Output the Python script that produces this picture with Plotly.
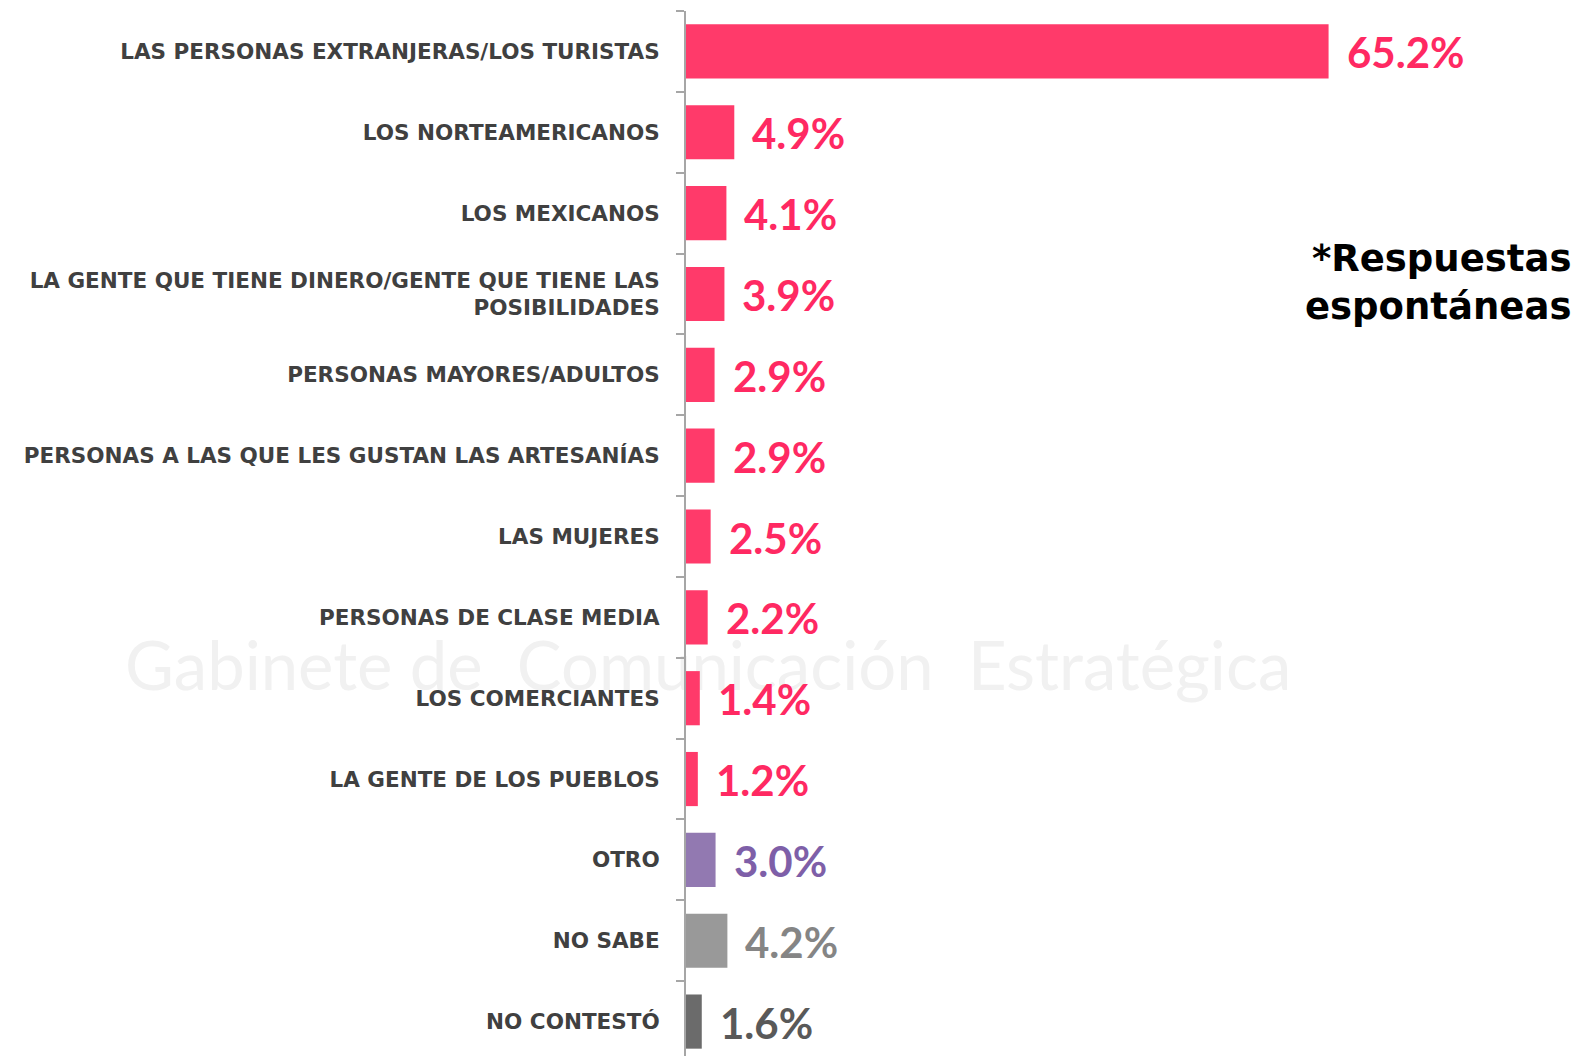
import plotly.graph_objects as go

categories = [
    "LAS PERSONAS EXTRANJERAS/LOS TURISTAS",
    "LOS NORTEAMERICANOS",
    "LOS MEXICANOS",
    "LA GENTE QUE TIENE DINERO/GENTE QUE TIENE LAS<br>POSIBILIDADES",
    "PERSONAS MAYORES/ADULTOS",
    "PERSONAS A LAS QUE LES GUSTAN LAS ARTESANÍAS",
    "LAS MUJERES",
    "PERSONAS DE CLASE MEDIA",
    "LOS COMERCIANTES",
    "LA GENTE DE LOS PUEBLOS",
    "OTRO",
    "NO SABE",
    "NO CONTESTÓ",
]
values = [65.2, 4.9, 4.1, 3.9, 2.9, 2.9, 2.5, 2.2, 1.4, 1.2, 3.0, 4.2, 1.6]
value_labels = ["65.2%", "4.9%", "4.1%", "3.9%", "2.9%", "2.9%", "2.5%",
                "2.2%", "1.4%", "1.2%", "3.0%", "4.2%", "1.6%"]

PINK, PINK_T = "#FF3A6A", "#FF2962"
bar_colors = [PINK] * 10 + ["#9279B1", "#999999", "#6B6B6B"]
text_colors = [PINK_T] * 10 + ["#7E5FA8", "#858585", "#595959"]

fig = go.Figure()
fig.add_trace(go.Bar(
    x=values, y=categories, orientation="h",
    marker=dict(color=bar_colors, line=dict(width=0)),
    hoverinfo="skip", showlegend=False,
))

for c, v, t, col in zip(categories, values, value_labels, text_colors):
    fig.add_annotation(x=v, y=c, text=f"<b>{t}</b>", showarrow=False,
                       xanchor="left", xshift=16, yshift=-1,
                       font=dict(family="Lato", size=42, color=col))

fig.add_annotation(xref="paper", yref="paper", x=1.0, y=0.742,
                   text="<b>*Respuestas<br>espontáneas</b>", showarrow=False,
                   xanchor="right", yanchor="middle", align="right", xshift=0,
                   font=dict(family="DejaVu Sans", size=37, color="#000000"))

# faint watermark, drawn below the bars
fig.add_shape(type="rect", xref="paper", yref="paper",
              x0=-0.7, x1=0.75, y0=0.34, y1=0.42, layer="below",
              line=dict(width=0), fillcolor="rgba(0,0,0,0)",
              label=dict(text="Gabinete de  Comunicación  Estratégica",
                         textposition="middle center",
                         font=dict(family="Lato", size=67, color="#F1F1F1")))

# page body has an 8px default margin: figure is sized/offset to compensate
fig.update_layout(
    width=1571, height=1056,
    margin=dict(l=678, r=6, t=3, b=2),
    plot_bgcolor="white", paper_bgcolor="white",
    bargap=0.33,
    xaxis=dict(range=[0, 90], visible=False, fixedrange=True),
    yaxis=dict(
        autorange="reversed", type="category",
        showline=True, linecolor="#A6A6A6", linewidth=2,
        ticks="outside", ticklen=8, tickcolor="#A6A6A6", tickwidth=2,
        tickson="boundaries", showgrid=False,
        tickfont=dict(family="DejaVu Sans", size=21.5, color="#404040", weight="bold"),
        ticklabelstandoff=20,
    ),
)

fig.write_html("out.html")
